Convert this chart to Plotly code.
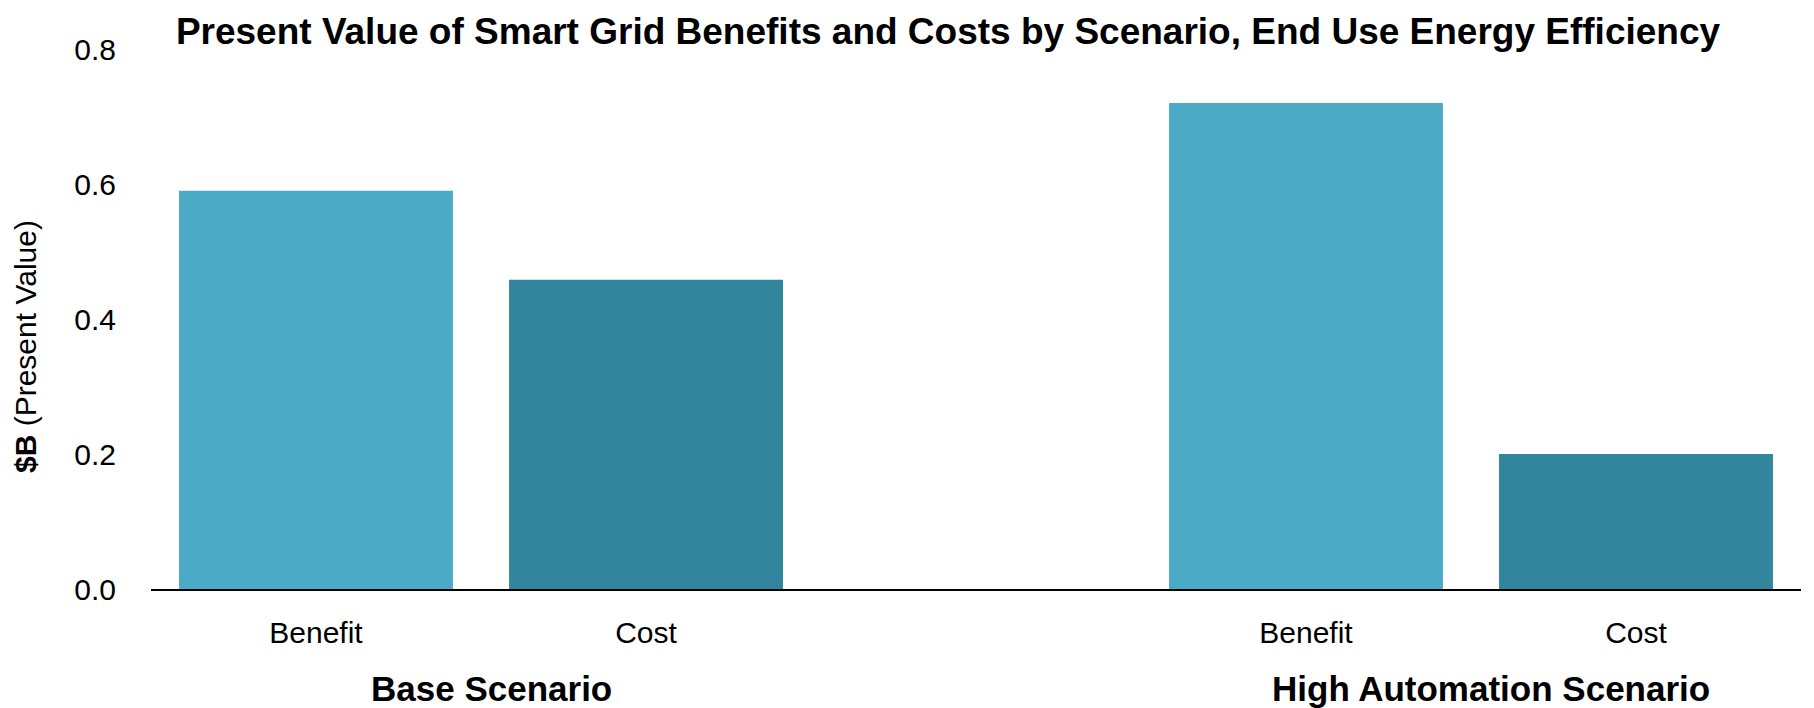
import plotly.graph_objects as go

# Data
scenarios = ["Base Scenario", "High Automation Scenario"]
measures = ["Benefit", "Cost"]
values = {
    "Base Scenario": [0.59, 0.458],
    "High Automation Scenario": [0.72, 0.20],
}
bar_colors = ["#4BABC6", "#31859C"]
y_ticks = [0.0, 0.2, 0.4, 0.6, 0.8]

FONT = "Liberation Sans, Arial, Helvetica, sans-serif"

# Each scenario occupies two slots, with an empty slot between groups
xs, ys, cols, labels = [], [], [], []
for g, sc in enumerate(scenarios):
    for i, m in enumerate(measures):
        xs.append(g * 3 + i)
        ys.append(values[sc][i])
        cols.append(bar_colors[i])
        labels.append(m)

fig = go.Figure(
    go.Bar(
        x=xs,
        y=ys,
        width=0.83,
        marker=dict(color=cols, line=dict(width=0)),
        hovertemplate="%{y:.2f}<extra></extra>",
    )
)

W, H = 1814, 708
m_l, m_r, m_t, m_b = 151, 13, 49, 119

fig.update_layout(
    width=W,
    height=H,
    margin=dict(l=m_l, r=m_r, t=m_t, b=m_b),
    paper_bgcolor="white",
    plot_bgcolor="white",
    showlegend=False,
    font=dict(family=FONT, color="#000000", size=30),
    title=dict(
        text="<b>Present Value of Smart Grid Benefits and Costs by Scenario, End Use Energy Efficiency</b>",
        font=dict(family=FONT, size=37, color="#000000"),
        x=948 / W,
        xanchor="center",
        xref="container",
        y=1 - 31 / H,
        yanchor="middle",
        yref="container",
    ),
    xaxis=dict(
        range=[-0.5, 4.5],
        tickmode="array",
        tickvals=xs,
        ticktext=labels,
        showgrid=False,
        zeroline=False,
        showline=True,
        linecolor="#000000",
        linewidth=2,
        ticks="",
        ticklabelstandoff=16,
        tickfont=dict(family=FONT, size=30, color="#000000"),
    ),
    yaxis=dict(
        range=[0, 0.8],
        tickmode="array",
        tickvals=y_ticks,
        tickformat=".1f",
        showgrid=False,
        zeroline=False,
        showline=False,
        ticks="",
        ticklabelstandoff=34,
        tickfont=dict(family=FONT, size=30, color="#000000"),
    ),
)

# Scenario group labels under the category labels
group_shift = [10, 20]
for g, sc in enumerate(scenarios):
    fig.add_annotation(
        x=g * 3 + 0.5,
        xref="x",
        y=-99 / (H - m_t - m_b),
        yref="paper",
        yanchor="middle",
        xshift=group_shift[g],
        text=f"<b>{sc}</b>",
        showarrow=False,
        font=dict(family=FONT, size=35, color="#000000"),
    )

# Y-axis title
fig.add_annotation(
    x=(25 - m_l) / (W - m_l - m_r),
    xref="paper",
    y=(589 - 346) / (H - m_t - m_b),
    yref="paper",
    xanchor="center",
    yanchor="middle",
    textangle=-90,
    text="<b>$B</b> (Present Value)",
    showarrow=False,
    font=dict(family=FONT, size=30, color="#000000"),
)

fig.write_html("out.html")
